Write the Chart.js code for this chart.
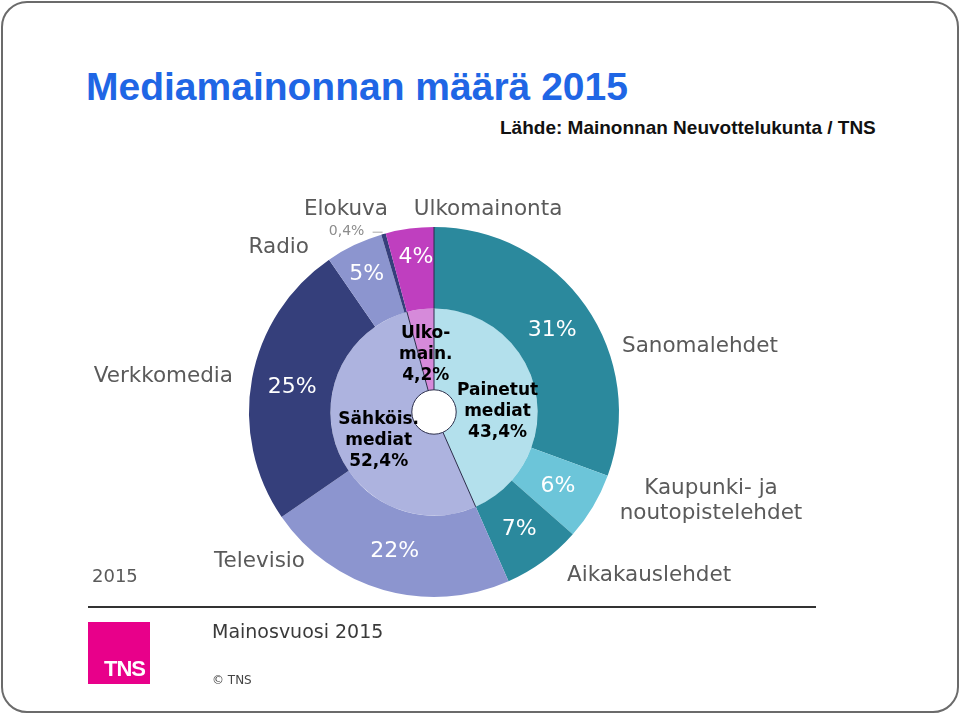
<!DOCTYPE html>
<html>
<head>
<meta charset="utf-8">
<script src="https://cdn.jsdelivr.net/npm/chart.js@4.4.1/dist/chart.umd.min.js"></script>
<style>
  html, body { margin: 0; padding: 0; background: #fff; }
  #slide {
    position: relative; width: 960px; height: 714px; overflow: hidden;
  }
  #frame {
    position: absolute; left: 1px; top: 1px; width: 954px; height: 708px;
    border: 2px solid #6b6b6b; border-radius: 26px;
  }
  #chartBox { position: absolute; left: 0; top: 0; width: 960px; height: 714px; }
  .title {
    position: absolute; left: 86px; top: 65px; margin: 0;
    font: bold 39px "Liberation Sans", Arial, sans-serif; color: #1f66e5;
  }
  .source {
    position: absolute; left: 500px; top: 117px;
    font: bold 19px "Liberation Sans", Arial, sans-serif; color: #111;
  }
  .year { position: absolute; left: 92px; top: 565px; font: 18px "DejaVu Sans", sans-serif; color: #5a5a5a; }
  .rule { position: absolute; left: 88px; top: 606px; width: 728px; height: 2px; background: #333; }
  .logo {
    position: absolute; left: 88px; top: 622px; width: 62px; height: 62px; background: #e8008a;
  }
  .logo span {
    position: absolute; right: 5px; bottom: 2px; color: #fff;
    font: bold 22px "Liberation Sans Narrow", "Liberation Sans", sans-serif; letter-spacing: -1px;
  }
  .footTitle { position: absolute; left: 212px; top: 620px; font: 19px "DejaVu Sans", sans-serif; color: #3a3a3a; }
  .copy { position: absolute; left: 212px; top: 673px; font: 12px "DejaVu Sans", sans-serif; color: #444; }
</style>
</head>
<body>
<div id="slide">
  <div id="frame"></div>
  <h1 class="title">Mediamainonnan määrä 2015</h1>
  <div class="source">Lähde: Mainonnan Neuvottelukunta / TNS</div>
  <div id="chartBox"><canvas id="donut" width="960" height="714"></canvas></div>
  <div class="year">2015</div>
  <div class="rule"></div>
  <div class="logo"><span>TNS</span></div>
  <div class="footTitle">Mainosvuosi 2015</div>
  <div class="copy">© TNS</div>
</div>

<script>
// outer ring: media
const mediaNames  = ['Sanomalehdet', 'Kaupunki- ja\nnoutopistelehdet', 'Aikakauslehdet', 'Televisio', 'Verkkomedia', 'Radio', 'Elokuva', 'Ulkomainonta'];
const mediaShares = [30.6, 5.9, 6.9, 22.0, 25.0, 5.0, 0.4, 4.2];
const mediaLabels = ['31%', '6%', '7%', '22%', '25%', '5%', '0,4%', '4%'];
const mediaColors = ['#2b899d', '#6cc5d9', '#2b899d', '#8c95cf', '#353f7b', '#8c95cf', '#353f7b', '#bf3fbf'];

// inner ring: groups
const groupNames  = ['Painetut\nmediat', 'Sähköis.\nmediat', 'Ulko-\nmain.'];
const groupShares = [43.4, 52.4, 4.2];
const groupLabels = ['43,4%', '52,4%', '4,2%'];
const groupColors = ['#b3e0ec', '#adb3df', '#d68ada'];

// label nudges (px) from each slice's centroid
const mediaNudge = [[0, 1], [0, 0], [0, 1], [0, 0], [0, 1], [-5, -8], [-48, -42], [1, -12]];
const groupNudge = [[2, 13], [4, 8], [0, 5]];

// category name placement around the ring (offset from centre, align)
const nameSpots = [
  [188, -66, 'left'], [277, 76, 'center'], [133, 163, 'left'], [-129, 149, 'right'],
  [-201, -36, 'right'], [-125, -165, 'right'], [-88, -203, 'center'], [54, -203, 'center']
];

const ringLabels = {
  id: 'ringLabels',
  afterDatasetsDraw(chart) {
    const ctx = chart.ctx;
    const outer = chart.getDatasetMeta(0).data;
    const inner = chart.getDatasetMeta(1).data;
    const cx = outer[0].x, cy = outer[0].y;
    ctx.save();
    ctx.textBaseline = 'middle';

    // separators + hole outline on the inner ring
    ctx.strokeStyle = '#2a2d4a';
    ctx.lineWidth = 1;
    inner.forEach(a => {
      ctx.beginPath();
      ctx.moveTo(cx + a.innerRadius * Math.cos(a.startAngle), cy + a.innerRadius * Math.sin(a.startAngle));
      ctx.lineTo(cx + a.outerRadius * Math.cos(a.startAngle), cy + a.outerRadius * Math.sin(a.startAngle));
      ctx.stroke();
    });
    ctx.beginPath();
    ctx.arc(cx, cy, inner[0].innerRadius, 0, Math.PI * 2);
    ctx.stroke();
    // thin line between Ulkomainonta and Sanomalehdet in the outer ring
    const s = outer[0];
    ctx.beginPath();
    ctx.moveTo(cx + s.innerRadius * Math.cos(s.startAngle), cy + s.innerRadius * Math.sin(s.startAngle));
    ctx.lineTo(cx + s.outerRadius * Math.cos(s.startAngle), cy + s.outerRadius * Math.sin(s.startAngle));
    ctx.stroke();

    // percent labels, outer ring
    ctx.textAlign = 'center';
    outer.forEach((a, i) => {
      const p = a.tooltipPosition();
      const x = p.x + mediaNudge[i][0], y = p.y + mediaNudge[i][1];
      if (mediaShares[i] < 1) {
        ctx.fillStyle = '#8c8c8c';
        ctx.font = '14px "DejaVu Sans", sans-serif';
        ctx.fillText(mediaLabels[i], x, y);
        ctx.strokeStyle = '#aaaaaa';
        ctx.beginPath();
        ctx.moveTo(x + 26, y + 1);
        ctx.lineTo(x + 36, y + 1);
        ctx.stroke();
      } else {
        ctx.fillStyle = '#ffffff';
        ctx.font = '22px "DejaVu Sans", sans-serif';
        ctx.fillText(mediaLabels[i], x, y);
      }
    });

    // group labels, inner ring
    ctx.fillStyle = '#000';
    ctx.font = 'bold 17px "DejaVu Sans", sans-serif';
    inner.forEach((a, i) => {
      const p = a.tooltipPosition();
      const lines = groupNames[i].split('\n').concat(groupLabels[i]);
      const x = p.x + groupNudge[i][0], y0 = p.y + groupNudge[i][1] - 21;
      lines.forEach((t, k) => ctx.fillText(t, x, y0 + k * 21));
    });

    // category names
    ctx.fillStyle = '#5a5a5a';
    ctx.font = '21.5px "DejaVu Sans", sans-serif';
    nameSpots.forEach((sp, i) => {
      ctx.textAlign = sp[2];
      mediaNames[i].split('\n').forEach((t, k) => ctx.fillText(t, cx + sp[0], cy + sp[1] + k * 25));
    });
    ctx.restore();
  }
};

new Chart(document.getElementById('donut'), {
  type: 'doughnut',
  data: {
    labels: mediaNames,
    datasets: [
      { data: mediaShares, backgroundColor: mediaColors, borderWidth: 0 },
      { data: groupShares, backgroundColor: groupColors, borderWidth: 0 }
    ]
  },
  options: {
    responsive: false,
    animation: false,
    cutout: '12%',
    layout: { padding: { left: 249, right: 341, top: 227, bottom: 117 } },
    plugins: { legend: { display: false }, tooltip: { enabled: false } }
  },
  plugins: [ringLabels]
});
</script>
</body>
</html>
